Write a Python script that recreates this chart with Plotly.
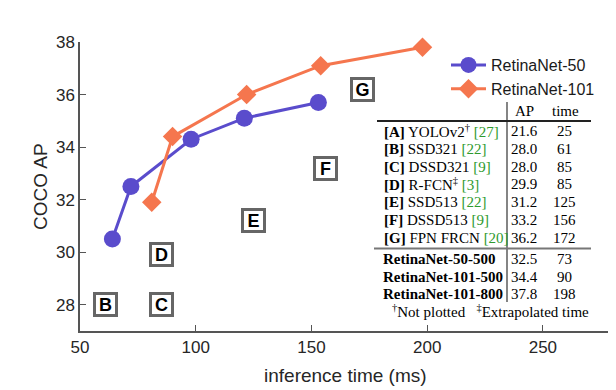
import plotly.graph_objects as go

# ---------------- data ----------------
r50_time = [64, 72, 98, 121, 153]
r50_ap = [30.5, 32.5, 34.3, 35.1, 35.7]
r101_time = [81, 90, 122, 154, 198]
r101_ap = [31.9, 34.4, 36.0, 37.1, 37.8]

method_labels = ["A", "B", "C", "D", "E", "F", "G"]
method_names = ["YOLOv2", "SSD321", "DSSD321", "R-FCN", "SSD513", "DSSD513", "FPN FRCN"]
method_marks = ["†", "", "", "‡", "", "", ""]
method_refs = [27, 22, 9, 3, 22, 9, 20]
method_ap = [21.6, 28.0, 28.0, 29.9, 31.2, 33.2, 36.2]
method_time = [25, 61, 85, 85, 125, 156, 172]
method_plotted = [False, True, True, True, True, True, True]

retina_names = ["RetinaNet-50-500", "RetinaNet-101-500", "RetinaNet-101-800"]
retina_ap = [32.5, 34.4, 37.8]
retina_time = [73, 90, 198]

x_ticks = [50, 100, 150, 200, 250]
y_ticks = [28, 30, 32, 34, 36, 38]

BLUE = "#5a4ccc"
ORANGE = "#f5764e"
GREEN = "#2e9a2e"
SANS = "Liberation Sans, Arial, sans-serif"
SERIF = "Liberation Serif, Times New Roman, serif"

# page offset of the figure (default body margin)
OFF = 8
W, H = 616, 390
# desired plot area in page pixels: x 80..610, y 42..331
ML, MT = 80 - OFF, 42 - OFF
MR = W - (610 - OFF)
MB = H - (331 - OFF)
PW, PH = W - ML - MR, H - MT - MB


def px(x):
    return (x - OFF - ML) / PW


def py(y):
    return (H - MB - (y - OFF)) / PH


fig = go.Figure()
fig.add_trace(go.Scatter(
    x=r50_time, y=r50_ap, mode="lines+markers", name="RetinaNet-50",
    line=dict(color=BLUE, width=3),
    marker=dict(symbol="circle", size=17, color=BLUE),
    cliponaxis=False,
))
fig.add_trace(go.Scatter(
    x=r101_time, y=r101_ap, mode="lines+markers", name="RetinaNet-101",
    line=dict(color=ORANGE, width=3),
    marker=dict(symbol="diamond", size=15, color=ORANGE),
    cliponaxis=False,
))

annotations = []
# boxed method letters on the chart
for lab, t, ap, show in zip(method_labels, method_time, method_ap, method_plotted):
    if not show:
        continue
    annotations.append(dict(
        x=t, y=ap, xref="x", yref="y", text=f"<b>{lab}</b>", showarrow=False,
        font=dict(family=SANS, size=18, color="black"),
        bgcolor="white", bordercolor="#666666", borderwidth=3, borderpad=0,
        width=19, height=19,
    ))

# axis titles
annotations.append(dict(x=px(345), y=py(375), xref="paper", yref="paper", text="inference time (ms)",
                        showarrow=False, font=dict(family=SANS, size=19, color="#262626"),
                        xanchor="center", yanchor="middle"))
annotations.append(dict(x=px(40), y=py(187), xref="paper", yref="paper", text="COCO AP",
                        showarrow=False, font=dict(family=SANS, size=19, color="#262626"),
                        xanchor="center", yanchor="middle", textangle=-90))

# table
table_font = dict(family=SERIF, size=15, color="black")
annotations.append(dict(x=px(524), y=py(111), xref="paper", yref="paper", text="AP",
                        showarrow=False, font=table_font, xanchor="center", yanchor="middle"))
annotations.append(dict(x=px(565), y=py(111), xref="paper", yref="paper", text="time",
                        showarrow=False, font=table_font, xanchor="center", yanchor="middle"))

row_y = [131 + 17.8 * i for i in range(7)]
for i, (lab, name, mark, ref, ap, t) in enumerate(
        zip(method_labels, method_names, method_marks, method_refs, method_ap, method_time)):
    sup = f"<sup>{mark}</sup>" if mark else ""
    txt = f"<b>[{lab}]</b> {name}{sup} <span style='color:{GREEN}'>[{ref}]</span>"
    annotations.append(dict(x=px(382), y=py(row_y[i]), xref="paper", yref="paper", text=txt,
                            showarrow=False, font=table_font, xanchor="left", yanchor="middle"))
    annotations.append(dict(x=px(524), y=py(row_y[i]), xref="paper", yref="paper", text=f"{ap:.1f}",
                            showarrow=False, font=table_font, xanchor="center", yanchor="middle"))
    annotations.append(dict(x=px(564), y=py(row_y[i]), xref="paper", yref="paper", text=f"{t}",
                            showarrow=False, font=table_font, xanchor="center", yanchor="middle"))

ret_y = [259, 276.5, 294]
for i, (name, ap, t) in enumerate(zip(retina_names, retina_ap, retina_time)):
    annotations.append(dict(x=px(381), y=py(ret_y[i]), xref="paper", yref="paper", text=f"<b>{name}</b>",
                            showarrow=False, font=table_font, xanchor="left", yanchor="middle"))
    annotations.append(dict(x=px(524), y=py(ret_y[i]), xref="paper", yref="paper", text=f"{ap:.1f}",
                            showarrow=False, font=table_font, xanchor="center", yanchor="middle"))
    annotations.append(dict(x=px(564), y=py(ret_y[i]), xref="paper", yref="paper", text=f"{t}",
                            showarrow=False, font=table_font, xanchor="center", yanchor="middle"))

annotations.append(dict(x=px(490), y=py(311), xref="paper", yref="paper",
                        text="<sup>†</sup>Not plotted   <sup>‡</sup>Extrapolated time",
                        showarrow=False, font=table_font, xanchor="center", yanchor="middle"))

shapes = [
    dict(type="line", xref="paper", yref="paper", x0=px(507), x1=px(507), y0=py(102), y1=py(302),
         line=dict(color="#333333", width=1.2)),
    dict(type="line", xref="paper", yref="paper", x0=px(377), x1=px(591), y0=py(121), y1=py(121),
         line=dict(color="#222222", width=1.8)),
    dict(type="line", xref="paper", yref="paper", x0=px(374), x1=px(591), y0=py(248.5), y1=py(248.5),
         line=dict(color="#777777", width=2)),
]

fig.update_layout(
    width=W, height=H,
    margin=dict(l=ML, r=MR, t=MT, b=MB, autoexpand=False),
    paper_bgcolor="white", plot_bgcolor="white",
    font=dict(family=SANS, color="#262626"),
    showlegend=True,
    legend=dict(x=px(446), y=py(48), xanchor="left", yanchor="top",
                font=dict(family=SANS, size=16, color="#1a1a1a"),
                bgcolor="rgba(0,0,0,0)", tracegroupgap=0, itemwidth=35),
    annotations=annotations,
    shapes=shapes,
    xaxis=dict(range=[50, 279], tickvals=x_ticks, ticks="inside", ticklen=6, tickwidth=1,
               tickcolor="#555", showline=True, linecolor="#555", linewidth=1.5,
               showgrid=False, zeroline=False, tickfont=dict(size=17, color="#262626"),
               automargin=False),
    yaxis=dict(range=[27, 38], tickvals=y_ticks, ticks="inside", ticklen=6, tickwidth=1,
               tickcolor="#555", showline=True, linecolor="#555", linewidth=1.5,
               showgrid=False, zeroline=False, tickfont=dict(size=17, color="#262626"),
               automargin=False),
)

fig.write_html("out.html")
